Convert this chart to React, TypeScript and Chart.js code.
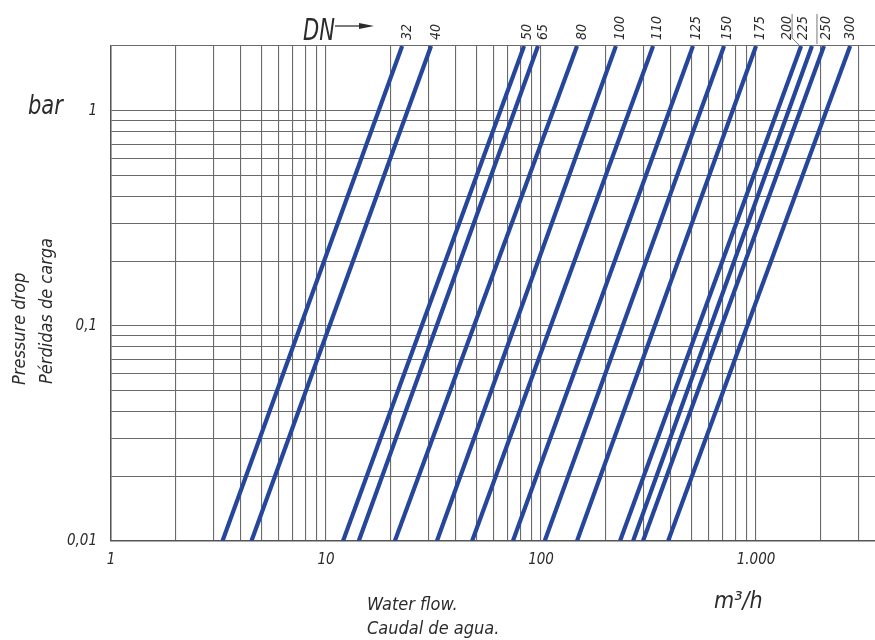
import React, { useEffect, useRef } from "react";
import { Chart, registerables } from "chart.js";

Chart.register(...registerables);

// ---- data ----
const dnLabels = ["32", "40", "50", "65", "80", "100", "110", "125", "150", "175", "200", "225", "250", "300"];
// flow (m3/h) at pressure drop = 0.01 bar
const flowAtLow = [3.3, 4.5, 12.0, 14.2, 20.9, 32.8, 47.8, 74, 104, 147, 233, 268, 298, 390];
// flow (m3/h) at pressure drop = 2 bar (top of chart)
const flowAtHigh = [22.6, 30.8, 83.4, 96.8, 147, 223, 332, 509, 710, 1000, 1620, 1820, 2070, 2740];
const pressureRange = [0.01, 2];
const flowRange = [1, 3575];
const xTickLabels: Record<number, string> = { 1: "1", 10: "10", 100: "100", 1000: "1.000" };
const yTickLabels: Record<string, string> = { "0.01": "0,01", "0.1": "0,1", "1": "1" };

// ---- style ----
const FONT = "'Liberation Sans Narrow', 'DejaVu Sans Condensed', 'Roboto Condensed', 'Liberation Sans', sans-serif";
const LINE_COLOR = "#26469c";
const GRID_COLOR = "#6a6a6a";
const TEXT_COLOR = "#2b2b2b";
const labelDx = [5, 5, 3, 5, 5, 4, 4, 3, 3, 4, -14, -9, 2, 0];

const keepIntegerSignificand = (keepMax: boolean) => (s: any) => {
  s.ticks = s.ticks.filter((t: any) => {
    const v = t.value;
    const p = Math.pow(10, Math.floor(Math.log10(v) + 1e-9));
    const m = v / p;
    const isInt = Math.abs(m - Math.round(m)) < 1e-6;
    if (v === s.max) return keepMax;
    return isInt;
  });
};

const decorPlugin = {
  id: "decor",
  afterDatasetsDraw(chart: any) {
    const { ctx, scales, chartArea } = chart;
    const xs = scales.x;
    ctx.save();
    ctx.fillStyle = TEXT_COLOR;
    ctx.font = `italic 14px ${FONT}`;
    ctx.textBaseline = "middle";
    ctx.textAlign = "left";
    dnLabels.forEach((lab, i) => {
      const x = xs.getPixelForValue(flowAtHigh[i]) + labelDx[i];
      ctx.save();
      ctx.translate(x, chartArea.top - 6);
      ctx.rotate(-Math.PI / 2);
      ctx.fillText(lab, 0, 0);
      ctx.restore();
    });
    // leader lines near 200 / 225
    ctx.strokeStyle = "#777";
    ctx.lineWidth = 1;
    const x200 = xs.getPixelForValue(flowAtHigh[10]);
    const x225 = xs.getPixelForValue(flowAtHigh[11]);
    ctx.beginPath();
    ctx.moveTo(x200 - 9, chartArea.top - 32);
    ctx.lineTo(x200 - 9, chartArea.top - 8);
    ctx.lineTo(x200 - 1, chartArea.top);
    ctx.moveTo(x225 + 5, chartArea.top - 32);
    ctx.lineTo(x225 + 5, chartArea.top - 2);
    ctx.stroke();

    // DN arrow
    ctx.fillStyle = TEXT_COLOR;
    ctx.font = `italic 30px ${FONT}`;
    ctx.textAlign = "left";
    ctx.textBaseline = "alphabetic";
    ctx.save();
    ctx.translate(303, 40);
    ctx.scale(0.78, 1);
    ctx.fillText("DN", 0, 0);
    ctx.restore();
    ctx.strokeStyle = "#222";
    ctx.lineWidth = 1.2;
    ctx.beginPath();
    ctx.moveTo(335, 26);
    ctx.lineTo(362, 26);
    ctx.stroke();
    ctx.beginPath();
    ctx.moveTo(374, 26);
    ctx.lineTo(359, 23);
    ctx.lineTo(359, 29);
    ctx.closePath();
    ctx.fill();

    // bar
    ctx.font = `italic 26px ${FONT}`;
    ctx.save();
    ctx.translate(28, 114);
    ctx.scale(0.9, 1);
    ctx.fillText("bar", 0, 0);
    ctx.restore();

    // y title
    ctx.font = `italic 18px ${FONT}`;
    ctx.save();
    ctx.translate(25, 385);
    ctx.rotate(-Math.PI / 2);
    ctx.fillText("Pressure drop", 0, 0);
    ctx.restore();
    ctx.save();
    ctx.translate(52, 384);
    ctx.rotate(-Math.PI / 2);
    ctx.fillText("Pérdidas de carga", 0, 0);
    ctx.restore();

    // x titles
    ctx.fillText("Water flow.", 367, 610);
    ctx.fillText("Caudal de agua.", 367, 634);
    ctx.font = `italic 23px ${FONT}`;
    ctx.fillText("m³/h", 714, 608);
    ctx.restore();
  },
};

export default function App() {
  const ref = useRef<HTMLCanvasElement>(null);
  useEffect(() => {
    if (!ref.current) return;
    const datasets = dnLabels.map((lab, i) => ({
      label: "DN " + lab,
      data: [
        { x: flowAtLow[i], y: pressureRange[0] },
        { x: flowAtHigh[i], y: pressureRange[1] },
      ],
      borderColor: LINE_COLOR,
      backgroundColor: LINE_COLOR,
      borderWidth: 4.2,
      pointRadius: 0,
      fill: false,
      tension: 0,
    }));
    const chart = new Chart(ref.current, {
      type: "line",
      data: { datasets },
      plugins: [decorPlugin],
      options: {
        animation: false,
        responsive: false,
        devicePixelRatio: window.devicePixelRatio || 1,
        layout: { padding: { top: 46, left: 0, right: 0, bottom: 0 } },
        plugins: { legend: { display: false }, tooltip: { enabled: false } },
        scales: {
          x: {
            type: "logarithmic",
            min: flowRange[0],
            max: flowRange[1],
            border: { display: true, color: "#555", width: 1.5 },
            grid: { color: GRID_COLOR, lineWidth: 1.1, drawTicks: false },
            afterBuildTicks: keepIntegerSignificand(false),
            ticks: {
              autoSkip: false,
              maxRotation: 0,
              padding: 10,
              color: TEXT_COLOR,
              font: { family: FONT, size: 15, style: "italic" },
              callback: (v: any) => {
                const n = Number(v);
                for (const k of Object.keys(xTickLabels)) {
                  if (Math.abs(n - Number(k)) < 1e-6 * Number(k)) return xTickLabels[Number(k)];
                }
                return "";
              },
            },
            afterFit: (s: any) => {
              s.height = 99;
              s.paddingLeft = 0;
              s.paddingRight = 0;
            },
          },
          y: {
            type: "logarithmic",
            min: pressureRange[0],
            max: pressureRange[1],
            border: { display: true, color: "#555", width: 1.5 },
            grid: { color: GRID_COLOR, lineWidth: 1.1, drawTicks: false },
            afterBuildTicks: keepIntegerSignificand(true),
            ticks: {
              autoSkip: false,
              padding: 14,
              color: TEXT_COLOR,
              font: { family: FONT, size: 15, style: "italic" },
              callback: (v: any) => {
                const n = Number(v);
                for (const k of Object.keys(yTickLabels)) {
                  if (Math.abs(n - Number(k)) < 1e-6 * Number(k)) return yTickLabels[k];
                }
                return "";
              },
            },
            afterFit: (s: any) => {
              s.width = 111;
              s.paddingTop = 0;
              s.paddingBottom = 0;
            },
          },
        },
      },
    } as any);
    return () => chart.destroy();
  }, []);
  return (
    <canvas
      ref={ref}
      width={875}
      height={640}
      style={{ position: "absolute", left: 0, top: 0, width: 875, height: 640, background: "#fff" }}
    />
  );
}
